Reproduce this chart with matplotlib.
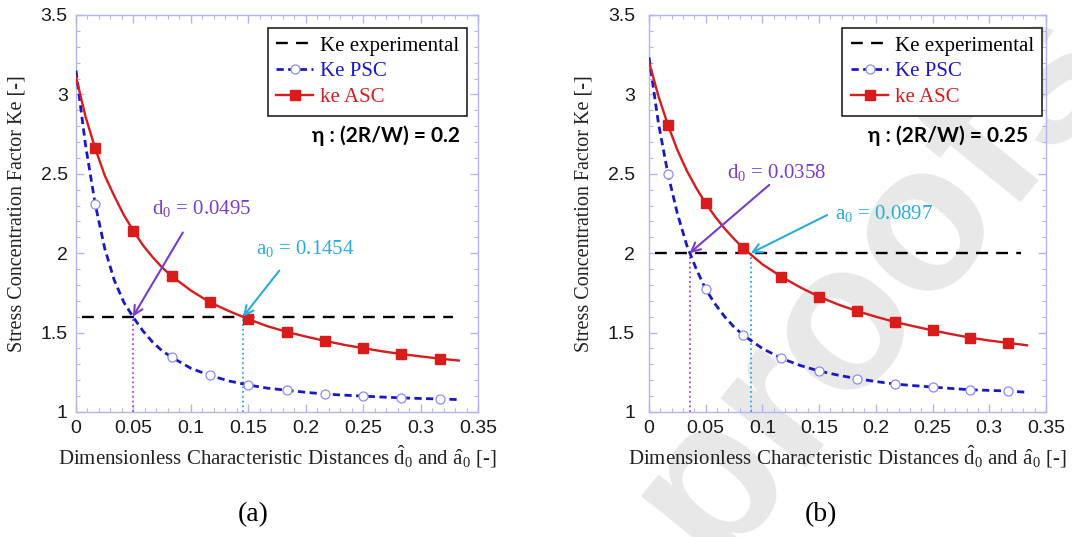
import matplotlib
matplotlib.use("Agg")
import matplotlib.pyplot as plt
from matplotlib.ticker import MultipleLocator, FormatStrFormatter

plt.rcParams['font.family'] = 'Liberation Sans'
plt.rcParams['mathtext.fontset'] = 'custom'
plt.rcParams['mathtext.rm'] = 'Liberation Serif'
plt.rcParams['mathtext.it'] = 'Liberation Serif:italic'

# dimensionless distance (shared by both panels)
x_dist = [0, 0.0083, 0.0167, 0.025, 0.0333, 0.0417, 0.05, 0.0583, 0.0667, 0.075,
          0.0833, 0.1, 0.1167, 0.1333, 0.15, 0.1667, 0.1833, 0.2, 0.2167, 0.2333,
          0.25, 0.2667, 0.2833, 0.3, 0.3167, 0.3333]
marks_idx = [2, 6, 10, 12, 14, 16, 18, 20, 22, 24]

# (a) eta = 0.2
ke_asc_a = [3.11, 2.86, 2.66, 2.49, 2.36, 2.24, 2.14, 2.05, 1.975, 1.91,
            1.855, 1.765, 1.69, 1.635, 1.585, 1.54, 1.505, 1.475, 1.448, 1.423,
            1.402, 1.382, 1.365, 1.35, 1.336, 1.324]
ke_psc_a = [3.15, 2.68, 2.31, 2.03, 1.83, 1.69, 1.595, 1.51, 1.44, 1.385,
            1.345, 1.275, 1.23, 1.195, 1.17, 1.15, 1.137, 1.124, 1.113, 1.106,
            1.1, 1.094, 1.089, 1.085, 1.082, 1.078]
ke_exp_a = 1.6
d0_a = 0.0495
a0_a = 0.1454

# (b) eta = 0.25
ke_asc_b = [3.206, 2.99, 2.807, 2.65, 2.52, 2.41, 2.314, 2.23, 2.155, 2.09,
            2.03, 1.93, 1.852, 1.785, 1.726, 1.677, 1.636, 1.6, 1.567, 1.54,
            1.514, 1.49, 1.468, 1.45, 1.435, 1.42]
ke_psc_b = [3.233, 2.82, 2.499, 2.25, 2.05, 1.9, 1.773, 1.68, 1.6, 1.535,
            1.483, 1.4, 1.338, 1.293, 1.258, 1.232, 1.21, 1.192, 1.176, 1.166,
            1.157, 1.148, 1.14, 1.136, 1.132, 1.124]
ke_exp_b = 2.0
d0_b = 0.0358
a0_b = 0.0897

exp_range = [0.005, 0.328]

BLUE = '#1818c8'
RED = '#d81c1c'
PURPLE = '#7a3ccc'
CYAN = '#28ace0'
FRAME = '#b4b4f0'
SERIF = 'Liberation Serif'


def draw_panel(ax, asc, psc, kexp, d0, a0, eta, psc_marks, d0_txt, d0_arrow,
               a0_txt, a0_arrow, leg_x, ylab_x, ypad):
    ax.plot(exp_range, [kexp, kexp], color='black', lw=1.7, dashes=(5, 3.5),
            label='Ke experimental', zorder=3)
    ax.plot(x_dist, psc, color=BLUE, lw=2.0, dashes=(2.6, 1.6), marker='o', ms=6.5,
            mfc='white', mec='#8c8cf0', mew=0.9, markevery=psc_marks,
            label='Ke PSC', zorder=4)
    ax.plot(x_dist, asc, color=RED, lw=1.7, marker='s', ms=7, mfc=RED, mec=RED,
            markevery=marks_idx, label='ke ASC', zorder=5)

    ax.plot([d0, d0], [1, kexp], ls=':', color='#b040d8', lw=1.3, zorder=2)
    ax.plot([a0, a0], [1, kexp], ls=':', color=CYAN, lw=1.3, zorder=2)

    ax.annotate('', xy=(d0, kexp), xytext=d0_arrow,
                arrowprops=dict(arrowstyle='->', color=PURPLE, lw=1.5,
                                shrinkA=0, shrinkB=0, mutation_scale=16), zorder=6)
    ax.annotate('', xy=(a0, kexp), xytext=a0_arrow,
                arrowprops=dict(arrowstyle='->', color=CYAN, lw=1.5,
                                shrinkA=0, shrinkB=0, mutation_scale=16), zorder=6)
    ax.text(d0_txt[0], d0_txt[1], 'd$_0$ = %.4f' % d0, color=PURPLE,
            family=SERIF, fontsize=15, va='center')
    ax.text(a0_txt[0], a0_txt[1], 'a$_0$ = %.4f' % a0, color=CYAN,
            family=SERIF, fontsize=15, va='center')

    ax.text(0.955, 0.695, 'η : (2R/W) = ' + eta, transform=ax.transAxes,
            ha='right', va='center', family='Lato', fontweight='bold',
            fontsize=15)

    leg = ax.legend(loc='upper right', bbox_to_anchor=(leg_x, 0.968),
                    fancybox=False, framealpha=1, edgecolor='#222222',
                    prop={'family': SERIF, 'size': 15}, handlelength=1.8,
                    handletextpad=0.3, labelspacing=0.3, borderpad=0.4,
                    numpoints=1, borderaxespad=0)
    leg.get_frame().set_linewidth(1.2)
    for t, c in zip(leg.get_texts(), ['black', BLUE, RED]):
        t.set_color(c)

    ax.set_xlim(0, 0.35)
    ax.set_ylim(1, 3.5)
    ax.xaxis.set_major_locator(MultipleLocator(0.05))
    ax.xaxis.set_minor_locator(MultipleLocator(0.01))
    ax.yaxis.set_major_locator(MultipleLocator(0.5))
    ax.yaxis.set_minor_locator(MultipleLocator(0.1))
    ax.xaxis.set_major_formatter(FormatStrFormatter('%g'))
    ax.yaxis.set_major_formatter(FormatStrFormatter('%g'))
    ax.tick_params(which='both', direction='in', top=True, right=True,
                   color=FRAME, labelsize=14, labelcolor='#1a1a1a')
    ax.tick_params(which='major', length=6, width=1)
    ax.tick_params(which='minor', length=3, width=0.8)
    ax.tick_params(axis='x', pad=6)
    ax.tick_params(axis='y', pad=ypad)
    for s in ax.spines.values():
        s.set_color(FRAME)
        s.set_linewidth(1)
    ax.set_facecolor('none')

    ax.set_xlabel(r'Dimensionless Characteristic Distances $\hat{\mathrm{d}}_0$ and $\hat{\mathrm{a}}_0$ [-]',
                  family=SERIF, fontsize=15, color='#222222')
    ax.xaxis.set_label_coords(0.5, -0.08)
    ax.set_ylabel('Stress Concentration Factor Ke [-]', family=SERIF,
                  fontsize=14.5, color='#222222')
    ax.yaxis.set_label_coords(ylab_x, 0.5)


fig = plt.figure(figsize=(10.72, 5.37), dpi=100)

# light "proofs" watermark of the source page
fig.text(0.816, 0.479, 'proofs', rotation=51, fontsize=150, fontweight='bold',
         color='#e8e8e8', ha='center', va='center', zorder=-1)

ax1 = fig.add_axes([0.0709, 0.2328, 0.375, 0.7393])
ax2 = fig.add_axes([0.6054, 0.2328, 0.3703, 0.7393])

draw_panel(ax1, ke_asc_a, ke_psc_a, ke_exp_a, d0_a, a0_a, '0.2',
           [2, 10, 12, 14, 16, 18, 20, 22, 24],
           (0.066, 2.28), (0.093, 2.13), (0.157, 2.03), (0.177, 1.89),
           0.973, -0.122, 6)
draw_panel(ax2, ke_asc_b, ke_psc_b, ke_exp_b, d0_b, a0_b, '0.25',
           marks_idx,
           (0.069, 2.51), (0.106, 2.43), (0.164, 2.25), (0.157, 2.24),
           0.99, -0.139, 10)

fig.text(253 / 1072, 1 - 515 / 537, '(a)', family=SERIF, fontsize=20,
         ha='center', va='center')
fig.text(821 / 1072, 1 - 515 / 537, '(b)', family=SERIF, fontsize=20,
         ha='center', va='center')

fig.savefig('out.png', dpi=100)
